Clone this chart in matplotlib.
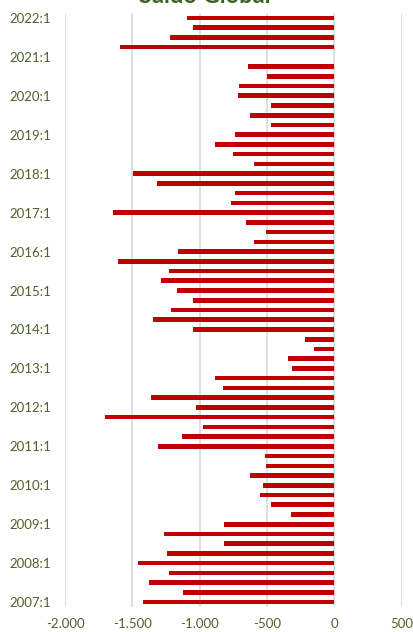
import matplotlib
matplotlib.use("Agg")
import matplotlib.pyplot as plt
from matplotlib.ticker import FuncFormatter, MultipleLocator
import numpy as np

years = list(range(2007, 2023))
quarters = [f"{y}:{q}" for y in years for q in range(1, 5)][:61]

saldo = [
    -1418, -1125, -1376, -1225,   # 2007
    -1456, -1240, -822, -1267,    # 2008
    -822, -323, -467, -554,       # 2009
    -529, -628, -504, -512,       # 2010
    -1307, -1133, -976, -1704,    # 2011
    -1031, -1361, -827, -889,     # 2012
    -313, -343, -149, -219,       # 2013
    -1051, -1349, -1215, -1046,   # 2014
    -1170, -1289, -1230, -1605,   # 2015
    -1163, -596, -509, -653,      # 2016
    -1642, -765, -738, -1319,     # 2017
    -1498, -596, -753, -884,      # 2018
    -740, -469, -628, -474,       # 2019
    -718, -710, -497, -641,       # 2020
    0, -1592, -1220, -1051,       # 2021
    -1095,                        # 2022
]

title = "Saldo Global"
label_color = "#4F6228"
bar_color = "#C00000"

fig = plt.figure(figsize=(4.14, 6.32), dpi=100)
ax = fig.add_axes([65/414, 25/632, (401.7-65)/414, 594/632])

pos = np.arange(len(quarters))
ax.barh(pos, saldo, height=0.47, color=bar_color, zorder=3)

ax.set_xlim(-2000, 500)
ax.set_ylim(-0.5, len(quarters) - 0.5)
ax.xaxis.set_major_locator(MultipleLocator(500))
ax.xaxis.set_major_formatter(FuncFormatter(lambda v, p: f"{int(v):,}".replace(",", ".")))
ax.set_yticks(pos[::4])
ax.set_yticklabels(quarters[::4])
ax.grid(axis="x", color="#D9D9D9", linewidth=1.2, zorder=0)
for s in ax.spines.values():
    s.set_visible(False)
ax.tick_params(axis="both", length=0, colors=label_color, labelsize=9.5)
ax.tick_params(axis="x", pad=8)
ax.tick_params(axis="y", pad=10)
for lab in ax.get_xticklabels() + ax.get_yticklabels():
    lab.set_fontfamily("Lato")

fig.text(0.495, 1 - 3/632, title, ha="center", va="baseline", fontsize=17,
         fontweight="bold", color="#3B6122", family="Lato")

fig.savefig("out.png", dpi=100)
